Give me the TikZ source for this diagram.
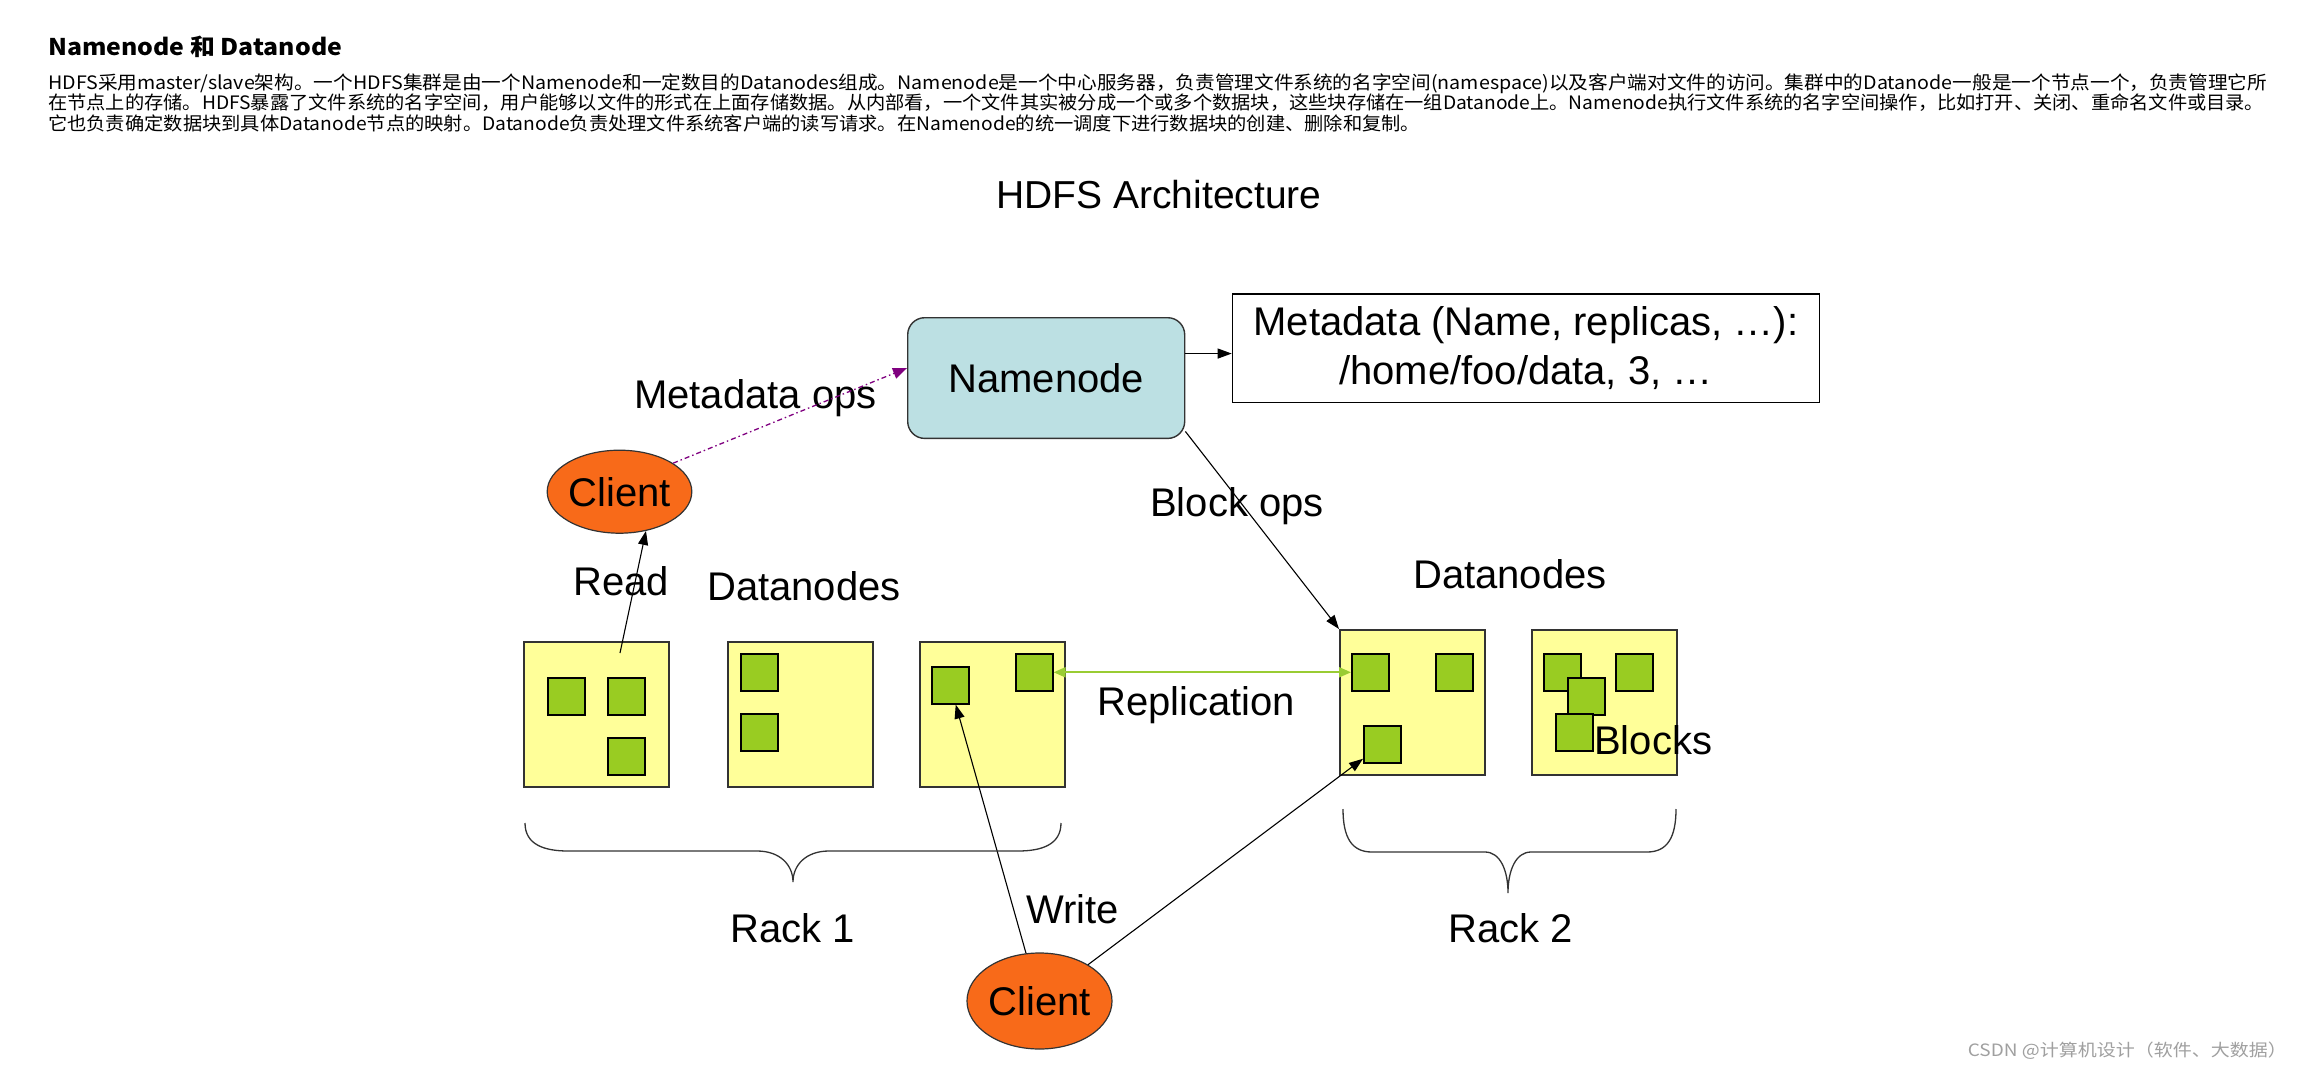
\documentclass[tikz,border=0pt]{standalone}
\usepackage{fontspec}
\usepackage{graphicx}
\setmainfont{Liberation Sans}
\newfontfamily\cjkfont{Noto Sans CJK SC}
\usetikzlibrary{shapes.geometric,arrows.meta}
\definecolor{dnyellow}{HTML}{FFFF99}
\definecolor{blkgreen}{HTML}{99CC22}
\definecolor{nnteal}{HTML}{BCE0E3}
\definecolor{clorange}{HTML}{F86A19}
\definecolor{mdpurple}{HTML}{800080}
\definecolor{repgreen}{HTML}{99CC33}
\definecolor{edgegray}{HTML}{333333}
\definecolor{wmgray}{HTML}{A0A0A0}
\newsavebox\mylinebox
\newcommand\fitto[2]{\sbox\mylinebox{#2}\pgfmathsetmacro\myfitscale{#1/\the\wd\mylinebox}\scalebox{\myfitscale}[1]{\usebox\mylinebox}}
\begin{document}
\begin{tikzpicture}[x=1pt,y=-1pt,
  lbl/.style={font=\fontsize{40}{48}\selectfont, inner sep=0pt},
  para/.style={anchor=base west, inner sep=0pt, font=\cjkfont\fontsize{18.5}{21}\selectfont},
  dnbox/.style={draw=edgegray, line width=1.6pt, fill=dnyellow, minimum width=145pt, minimum height=145pt, inner sep=0pt, anchor=north west},
  blk/.style={draw=black, line width=1.6pt, fill=blkgreen, minimum width=37pt, minimum height=37pt, inner sep=0pt, anchor=north west},
  client/.style={ellipse, draw=edgegray, line width=1.2pt, fill=clorange, inner sep=0pt, font=\fontsize{40}{48}\selectfont},
  arr/.style={draw=black, line width=1.1pt, -{Triangle[length=14pt,width=10pt]}},
  mdarr/.style={draw=mdpurple, line width=1.3pt, dash pattern=on 5pt off 3pt on 1.5pt off 3pt, -{Triangle[length=14pt,width=11pt]}},
  reparr/.style={draw=repgreen, line width=2pt, {Triangle[length=12pt,width=10pt]}-{Triangle[length=12pt,width=10pt]}},
  bracepath/.style={draw=edgegray, line width=1.3pt}
]
\useasboundingbox[fill=white] (0,0) rectangle (2303,1071);

% header text
\node[anchor=base west, inner sep=0pt, font=\cjkfont\bfseries\fontsize{23}{28}\selectfont] (title) at (48,55) {\fitto{294pt}{Namenode 和 Datanode}};
\node[para] (para1) at (48,89.5) {\fitto{2219pt}{HDFS采用master/slave架构。一个HDFS集群是由一个Namenode和一定数目的Datanodes组成。Namenode是一个中心服务器，负责管理文件系统的名字空间(namespace)以及客户端对文件的访问。集群中的Datanode一般是一个节点一个，负责管理它所}};
\node[para] (para2) at (48,109.5) {\fitto{2216pt}{在节点上的存储。HDFS暴露了文件系统的名字空间，用户能够以文件的形式在上面存储数据。从内部看，一个文件其实被分成一个或多个数据块，这些块存储在一组Datanode上。Namenode执行文件系统的名字空间操作，比如打开、关闭、重命名文件或目录。}};
\node[para] (para3) at (48,130) {\fitto{1372pt}{它也负责确定数据块到具体Datanode节点的映射。Datanode负责处理文件系统客户端的读写请求。在Namenode的统一调度下进行数据块的创建、删除和复制。}};

% diagram title
\node[anchor=base, inner sep=0pt, font=\fontsize{39}{46}\selectfont] (archtitle) at (1159,208) {HDFS Architecture};

% namenode and metadata
\node[draw=edgegray, line width=1.4pt, fill=nnteal, rounded corners=17pt, minimum width=277pt, minimum height=120.7pt, inner sep=0pt, anchor=north west, font=\fontsize{40}{48}\selectfont] (namenode) at (907,317) {Namenode};
\node[draw=black, line width=1.4pt, fill=white, minimum width=587pt, minimum height=108.4pt, inner sep=0pt, anchor=north west, align=center, font=\fontsize{40}{49}\selectfont] (metabox) at (1231.7,293.3) {Metadata (Name, replicas, …):\\/home/foo/data, 3, …};

% clients
\node[client, minimum width=144pt, minimum height=83pt] (client1) at (619.5,491.7) {Client};
\node[client, minimum width=145pt, minimum height=96pt] (client2) at (1039.5,1001) {Client};

% rack 1 datanodes
\node[dnbox] (r1a) at (523,641) {};
\node[dnbox] (r1b) at (727,641) {};
\node[dnbox] (r1c) at (919,641) {};
\node[blk] (bA) at (547,677) {};
\node[blk] (bB) at (607,677) {};
\node[blk] (bC) at (607,737) {};
\node[blk] (bM) at (740,653) {};
\node[blk] (bN) at (740,713) {};
\node[blk] (bD) at (931,666) {};
\node[blk] (bE) at (1015,653) {};

% rack 2 datanodes
\node[dnbox] (r2a) at (1339,629) {};
\node[dnbox] (r2b) at (1531,629) {};
\node[blk] (bF) at (1351,653) {};
\node[blk] (bG) at (1435,653) {};
\node[blk] (bH) at (1363,725) {};
\node[blk] (bI) at (1543,653) {};
\node[blk] (bJ) at (1615,653) {};
\node[blk] (bK) at (1567,677) {};
\node[blk] (bL) at (1555,713) {};

% labels
\node[lbl, anchor=base west] (lmeta) at (634,408) {Metadata ops};
\node[lbl, anchor=base west] (lread) at (573,595) {Read};
\node[lbl, anchor=base west] (ldn1) at (707,600) {Datanodes};
\node[lbl, anchor=base west] (lblock) at (1150,516) {Block ops};
\node[lbl, anchor=base west] (ldn2) at (1413,588) {Datanodes};
\node[lbl, anchor=base west] (lrep) at (1097,715) {Replication};
\node[lbl, anchor=base west] (lblocks) at (1594,754) {Blocks};
\node[lbl, anchor=base west] (lwrite) at (1026,923) {Write};
\node[lbl, anchor=base west] (lrack1) at (730,942) {Rack 1};
\node[lbl, anchor=base west] (lrack2) at (1448,942) {Rack 2};

% connectors
\coordinate (readtail) at (620,653);
\draw[arr] (readtail) -- (client1.-56);
\draw[mdarr] (client1.28) -- ([yshift=10pt]namenode.west);
\draw[arr] ([yshift=24.5pt]namenode.east) -- ([yshift=24.5pt]namenode.east -| metabox.west);
\draw[arr] (namenode.-21) -- (r2a.north west);
\draw[reparr] (bE.east) -- (bF.west);
\draw[arr] (client2) -- (bD);
\draw[arr] (client2) -- (bH);

% braces
\draw[bracepath] (525,823) .. controls (525,845) and (545,851) .. (568,851) -- (757,851) .. controls (780,851) and (793,865) .. (793,882) .. controls (793,865) and (806,851) .. (829,851) -- (1018,851) .. controls (1041,851) and (1061,845) .. (1061,823);
\draw[bracepath] (1343,809) .. controls (1343,838) and (1352,852) .. (1372,852) -- (1485,852) .. controls (1500,852) and (1508,870) .. (1508,893) .. controls (1508,870) and (1516,852) .. (1531,852) -- (1647,852) .. controls (1667,852) and (1676,838) .. (1676,809);

% watermark
\node[anchor=base east, inner sep=0pt, text=wmgray, font=\cjkfont\fontsize{17}{20}\selectfont] (wm) at (2287,1056) {\fitto{319pt}{CSDN @计算机设计（软件、大数据）}};
\end{tikzpicture}
\end{document}
